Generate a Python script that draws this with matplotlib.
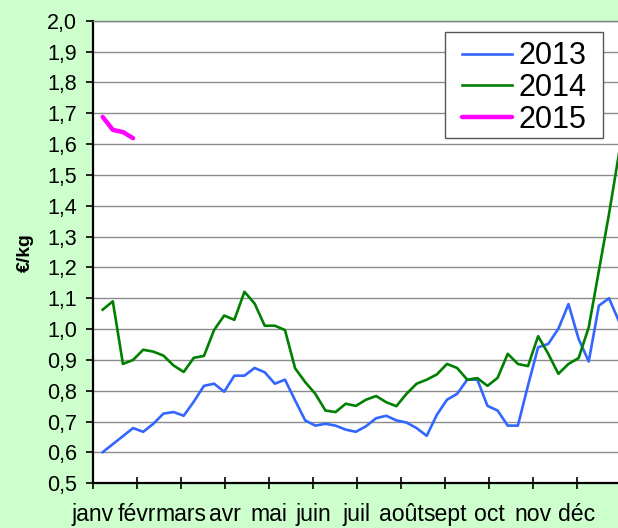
import matplotlib
matplotlib.use("Agg")
import matplotlib.pyplot as plt
from matplotlib.ticker import FixedLocator, FuncFormatter
from matplotlib.patches import Rectangle

plt.rcParams['font.family'] = ['Liberation Sans', 'DejaVu Sans']

months = ["janv", "févr", "mars", "avr", "mai", "juin", "juil", "août",
          "sept", "oct", "nov", "déc"]

weeks = list(range(1, 53))

y2013 = [0.601, 0.627, 0.653, 0.679, 0.667, 0.693, 0.726, 0.731, 0.719, 0.765,
         0.816, 0.823, 0.797, 0.849, 0.849, 0.874, 0.860, 0.823, 0.836, 0.769,
         0.704, 0.687, 0.693, 0.687, 0.674, 0.667, 0.685, 0.711, 0.719, 0.704,
         0.697, 0.679, 0.654, 0.722, 0.771, 0.790, 0.836, 0.836, 0.751, 0.736,
         0.687, 0.687, 0.817, 0.941, 0.952, 1.001, 1.081, 0.968, 0.895, 1.076,
         1.100, 1.024]

y2014 = [1.063, 1.090, 0.887, 0.900, 0.933, 0.927, 0.914, 0.882, 0.861, 0.907,
         0.913, 0.997, 1.044, 1.030, 1.121, 1.083, 1.011, 1.011, 0.997, 0.873,
         0.828, 0.790, 0.736, 0.731, 0.758, 0.751, 0.771, 0.783, 0.763, 0.750,
         0.790, 0.823, 0.836, 0.853, 0.887, 0.874, 0.836, 0.841, 0.816, 0.842,
         0.920, 0.887, 0.880, 0.977, 0.920, 0.855, 0.887, 0.906, 1.006, 1.189,
         1.373, 1.572]

y2015 = [1.688, 1.646, 1.639, 1.619]

W, H = 618, 528
fig = plt.figure(figsize=(W / 100, H / 100), dpi=100)
fig.patch.set_facecolor("#CCFFCC")

ax_left, ax_w = 93, 528
ax = fig.add_axes([ax_left / W, (H - 483.3) / H, ax_w / W, 462.6 / H])
ax.set_facecolor("white")

x13 = [w * 7 - 0.3 for w in weeks]
x15 = [w * 7 - 0.3 for w in weeks[:len(y2015)]]

ax.plot(x13, y2013, color="#3366FF", lw=1.9, label="2013", solid_joinstyle="round")
ax.plot(x13, y2014, color="#008000", lw=1.9, label="2014", solid_joinstyle="round")
ax.plot(x15, y2015, color="#FF00FF", lw=3.2, label="2015",
        solid_joinstyle="round", solid_capstyle="round")

ax.set_xlim(0, 365)
ax.set_ylim(0.5, 2.0)

ax.yaxis.set_major_locator(FixedLocator([0.5 + 0.1 * i for i in range(16)]))
ax.yaxis.set_major_formatter(FuncFormatter(lambda v, p: f"{v:.1f}".replace(".", ",")))
ax.grid(axis="y", color="#8C8C8C", lw=1.0)
ax.set_axisbelow(True)

mpos = [i * 365 / 12 for i in range(12)]
ax.set_xticks(mpos)
ax.set_xticklabels(months)

ax.tick_params(axis="y", direction="out", length=5, width=1.2, labelsize=15.5,
               pad=6.3, colors="black")
ax.tick_params(axis="x", direction="inout", length=9, width=1.2, labelsize=16.6,
               pad=9.5, colors="black")

for s in ["left", "bottom"]:
    ax.spines[s].set_color("black")
    ax.spines[s].set_linewidth(1.6)
ax.spines["top"].set_color("#808080")
ax.spines["top"].set_linewidth(1.0)
ax.spines["right"].set_color("#808080")
ax.spines["right"].set_linewidth(1.0)

fig.text(25 / W, 1 - 253 / H, "€/kg", rotation=90, ha="center", va="center",
         fontsize=14, fontweight="bold")

# legend box
ax.add_patch(Rectangle((444.7 / W, 1 - 138.3 / H), (602.7 - 444.7) / W,
                       (138.3 - 32.3) / H, transform=fig.transFigure,
                       facecolor="white", edgecolor="#555555", lw=1.0,
                       zorder=5, clip_on=False))
leg = ax.legend(loc="upper left", bbox_to_anchor=(461.7 / W, 1 - 41.5 / H),
                bbox_transform=fig.transFigure, fontsize=22, frameon=False,
                borderaxespad=0, borderpad=0,
                handlelength=1.64, handletextpad=0.22, labelspacing=0.05)
leg.set_zorder(6)

fig.savefig("out.png", dpi=100, facecolor=fig.get_facecolor())
